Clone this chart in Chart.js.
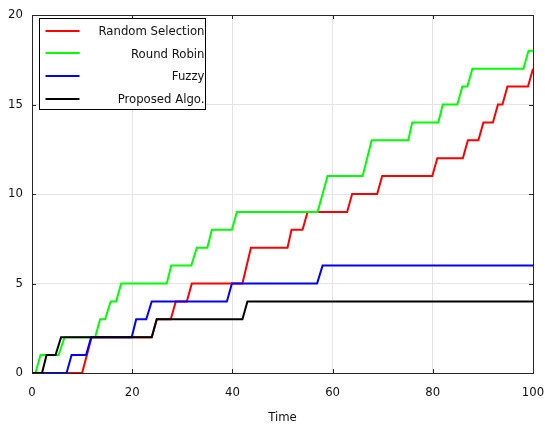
<!DOCTYPE html>
<html>
<head>
<meta charset="utf-8">
<script src="https://cdn.jsdelivr.net/npm/chart.js@4.4.1/dist/chart.umd.min.js"></script>
<style>
  html, body { margin: 0; padding: 0; background: #fff; }
  #wrap { width: 545px; height: 425px; }
</style>
</head>
<body>
<div id="wrap"><canvas id="chart" width="545" height="425"></canvas></div>
<script>
// corner points of each step curve (time, value)
const randomTime = [0, 10, 11.9, 23.9, 24.9, 27.7, 28.7, 30.9, 31.9, 42, 43.7, 51, 51.8, 54, 55, 62.9, 63.9, 68.9, 69.9, 79.9, 80.9, 86, 87, 89.1, 90.1, 92, 93, 93.9, 94.9, 99, 100];
const randomVal  = [0, 0, 2, 2, 3, 3, 4, 4, 5, 5, 7, 7, 8, 8, 9, 9, 10, 10, 11, 11, 12, 12, 13, 13, 14, 14, 15, 15, 16, 16, 17];

const robinTime = [0, 0.7, 1.7, 5.3, 6.5, 12.6, 13.6, 14.6, 15.7, 16.8, 17.8, 26.9, 27.8, 31.8, 32.9, 35, 35.9, 39.9, 40.9, 57, 59, 66, 67.8, 75.1, 75.9, 81.1, 82, 84.9, 85.9, 86.9, 87.9, 98.1, 99.1, 100];
const robinVal  = [0, 0, 1, 1, 2, 2, 3, 3, 4, 4, 5, 5, 6, 6, 7, 7, 8, 8, 9, 9, 11, 11, 13, 13, 14, 14, 15, 15, 16, 16, 17, 17, 18, 18];

const fuzzyTime = [0, 6.9, 7.9, 10.8, 11.8, 19.9, 20.8, 22.8, 23.9, 38.9, 39.9, 56.9, 58, 100];
const fuzzyVal  = [0, 0, 1, 1, 2, 2, 3, 3, 4, 4, 5, 5, 6, 6];

const proposedTime = [0, 2, 2.9, 4.7, 5.8, 23.9, 24.9, 42, 43, 100];
const proposedVal  = [0, 0, 1, 1, 2, 2, 3, 3, 4, 4];

const seriesNames = ['Random Selection', 'Round Robin', 'Fuzzy', 'Proposed Algo.'];
const seriesColors = ['#ff0000', '#00ff00', '#0000ff', '#000000'];

const xTicks = [0, 20, 40, 60, 80, 100];
const yTicks = [0, 5, 10, 15, 20];

const FONT = "'DejaVu Sans Condensed', 'DejaVu Sans', sans-serif";

function pts(ts, vs) {
  return ts.map((t, i) => ({ x: t, y: vs[i] }));
}

const curves = [
  pts(randomTime, randomVal),
  pts(robinTime, robinVal),
  pts(fuzzyTime, fuzzyVal),
  pts(proposedTime, proposedVal)
];
const drawOrder = [4, 3, 2, 1];

// frame, inward ticks and the boxed legend
const framePlugin = {
  id: 'frame',
  afterDatasetsDraw(chart) {
    const ctx = chart.ctx;
    const a = chart.chartArea;
    const xs = chart.scales.x, ys = chart.scales.y;
    ctx.save();
    ctx.strokeStyle = '#262626';
    ctx.lineWidth = 1;
    ctx.strokeRect(Math.round(a.left) + 0.5, Math.round(a.top) + 0.5,
                   Math.round(a.right - a.left), Math.round(a.bottom - a.top));
    const tl = 4;
    ctx.beginPath();
    xTicks.forEach(v => {
      const px = Math.round(xs.getPixelForValue(v)) + 0.5;
      ctx.moveTo(px, a.bottom); ctx.lineTo(px, a.bottom - tl);
      ctx.moveTo(px, a.top); ctx.lineTo(px, a.top + tl);
    });
    yTicks.forEach(v => {
      const py = Math.round(ys.getPixelForValue(v)) + 0.5;
      ctx.moveTo(a.left, py); ctx.lineTo(a.left + tl, py);
      ctx.moveTo(a.right, py); ctx.lineTo(a.right - tl, py);
    });
    ctx.stroke();

    // legend
    const bx = Math.round(a.left + 7) + 0.5, by = Math.round(a.top + 3) + 0.5;
    const bw = 166, bh = 91;
    ctx.fillStyle = '#fff';
    ctx.fillRect(bx, by, bw, bh);
    ctx.strokeStyle = '#000';
    ctx.strokeRect(bx, by, bw, bh);
    ctx.font = '13px ' + FONT;
    ctx.textAlign = 'right';
    ctx.textBaseline = 'middle';
    chart.data.datasets.forEach((ds, i) => {
      const ry = by + 12 + i * 22.7;
      ctx.strokeStyle = ds.borderColor;
      ctx.lineWidth = 2;
      ctx.beginPath();
      ctx.moveTo(bx + 6, Math.round(ry));
      ctx.lineTo(bx + 40, Math.round(ry));
      ctx.stroke();
      ctx.fillStyle = '#111';
      ctx.fillText(ds.label, bx + bw - 1, ry + 1);
    });
    ctx.restore();
  }
};

new Chart(document.getElementById('chart'), {
  type: 'line',
  data: {
    datasets: curves.map((c, i) => ({
      label: seriesNames[i],
      data: c,
      borderColor: seriesColors[i],
      backgroundColor: seriesColors[i],
      borderWidth: 2,
      pointRadius: 0,
      tension: 0,
      fill: false,
      order: drawOrder[i]
    }))
  },
  options: {
    responsive: false,
    animation: false,
    layout: { padding: { top: 15, right: 12, left: 0, bottom: 0 } },
    plugins: {
      legend: { display: false },
      tooltip: { enabled: false }
    },
    scales: {
      x: {
        type: 'linear',
        min: 0,
        max: 100,
        afterFit(s) { s.height = 52; s.paddingLeft = 0; s.paddingRight = 0; },
        afterBuildTicks(s) { s.ticks = xTicks.map(v => ({ value: v })); },
        ticks: { color: '#111', font: { family: FONT, size: 13 }, padding: 12, maxRotation: 0 },
        grid: { color: '#e4e4e4', drawTicks: false },
        border: { display: false },
        title: { display: true, text: 'Time', color: '#111', font: { family: FONT, size: 13 }, padding: { top: 10, bottom: 0 } }
      },
      y: {
        min: 0,
        max: 20,
        afterFit(s) { s.width = 32; s.paddingTop = 0; s.paddingBottom = 0; },
        afterBuildTicks(s) { s.ticks = yTicks.map(v => ({ value: v })); },
        ticks: { color: '#111', font: { family: FONT, size: 13 }, padding: 9 },
        grid: { color: '#e4e4e4', drawTicks: false },
        border: { display: false }
      }
    }
  },
  plugins: [framePlugin]
});
</script>
</body>
</html>
